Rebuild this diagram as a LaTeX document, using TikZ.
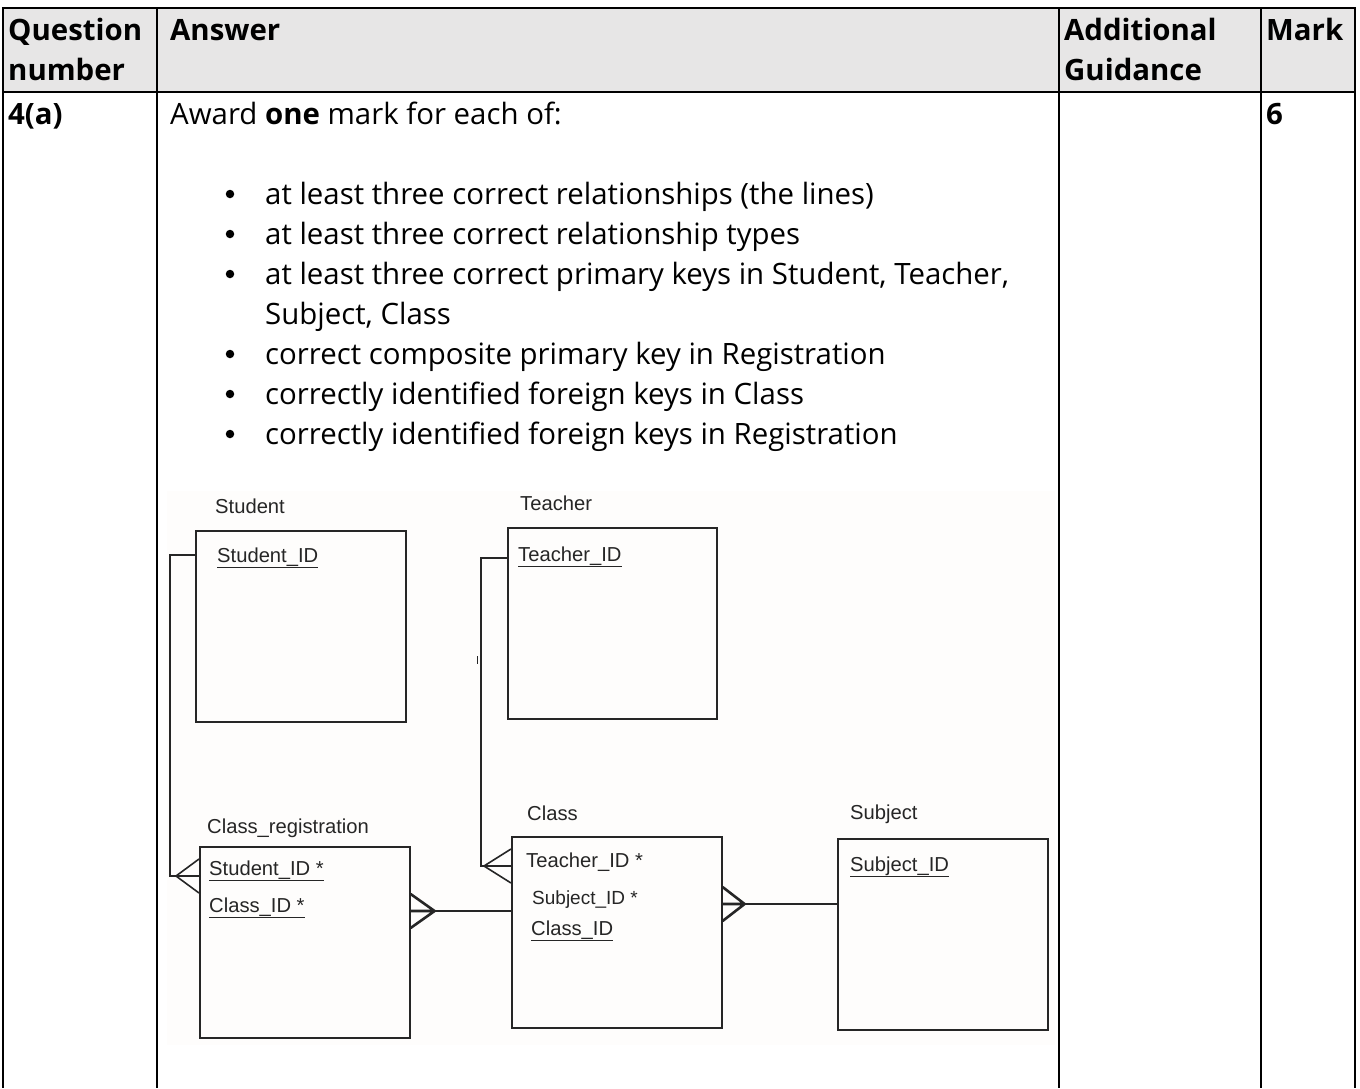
\documentclass[tikz,border=0pt]{standalone}
\usepackage{fontspec}
\setmainfont{Open Sans}
\newfontfamily\erfont{Liberation Sans}
\usetikzlibrary{calc}

\definecolor{headgray}{RGB}{231,230,230}
\definecolor{scanbg}{RGB}{254,253,252}
\definecolor{inkgray}{RGB}{38,38,38}

% crow's foot: [style]{edge point}{offset of the apex}
\newcommand{\crowfoot}[3][]{%
  \draw[link, #1] ($(#2)+(#3,0)$) -- ($(#2)+(0,-17)$)
                  ($(#2)+(#3,0)$) -- (#2)
                  ($(#2)+(#3,0)$) -- ($(#2)+(0,17)$);}

\begin{document}
\begin{tikzpicture}[x=1pt, y=-1pt,
    every node/.style={inner sep=0pt, anchor=base west},
    txt/.style={font=\fontsize{29.4}{40}\selectfont},
    hd/.style={font=\fontsize{29.4}{40}\selectfont\bfseries},
    bullet/.style={circle, fill, minimum size=8.5pt, anchor=center},
    entity/.style={draw=inkgray, line width=1.6pt, fill=scanbg, anchor=north west,
                   minimum width=210pt, minimum height=191pt},
    lbl/.style={font=\erfont\fontsize{20.2}{24}\selectfont, text=inkgray},
    link/.style={draw=inkgray, line width=1.6pt},
    rule/.style={line width=2.4pt}]

    \useasboundingbox (0,0) rectangle (1360,1088);

    %--------------------%
    % Parameters
    %--------------------%
    \def\colA{3}
    \def\colB{157}
    \def\colC{1059}
    \def\colD{1261}
    \def\colE{1355}
    \def\rowtop{8}
    \def\rowhead{92}
    \def\bulx{230}
    \def\textx{265}

    %--------------------%
    % Table
    %--------------------%
    \fill[headgray] (\colA,\rowtop) rectangle (\colE,\rowhead);
    \draw[rule] (\colA-1.2,\rowtop) -- (\colE+1.2,\rowtop);
    \draw[rule] (\colA,\rowhead) -- (\colE,\rowhead);
    \draw[rule] (\colA,\rowtop) -- (\colA,1088);
    \draw[rule] (\colB,\rowtop) -- (\colB,1088);
    \draw[rule] (\colC,\rowtop) -- (\colC,1088);
    \draw[rule] (\colD,\rowtop) -- (\colD,1088);
    \draw[rule] (\colE,\rowtop) -- (\colE,1088);

    %--------------------%
    % Header
    %--------------------%
    \node[hd] (qhead1) at (8,40) {Question};
    \node[hd] (qhead2) at (8,80) {number};
    \node[hd] (ahead) at (170,40) {Answer};
    \node[hd] (ghead1) at (1064,40) {Additional};
    \node[hd] (ghead2) at (1064,80) {Guidance};
    \node[hd] (mhead) at (1266,40) {Mark};

    %--------------------%
    % Row 4(a)
    %--------------------%
    \node[hd] (qnum) at (8,124) {4(a)};
    \node[txt] (award) at (170,124) {Award \textbf{one} mark for each of:};
    \node[hd] (mark) at (1266,124) {6};

    \foreach \y in {194,234,274,354,394,434}
        \node[bullet] at (\bulx,\y) {};
    \node[txt] (pt1) at (\textx,204) {at least three correct relationships (the lines)};
    \node[txt] (pt2) at (\textx,244) {at least three correct relationship types};
    \node[txt] (pt3) at (\textx,284) {at least three correct primary keys in Student, Teacher,};
    \node[txt] (pt3b) at (\textx,324) {Subject, Class};
    \node[txt] (pt4) at (\textx,364) {correct composite primary key in Registration};
    \node[txt] (pt5) at (\textx,404) {correctly identified foreign keys in Class};
    \node[txt] (pt6) at (\textx,444) {correctly identified foreign keys in Registration};

    %--------------------%
    % ER diagram
    %--------------------%
    \fill[scanbg] (167,491) rectangle (1055,1045);

    % Entities
    \node[entity] (student) at (195,530) {};
    \node[entity, minimum width=209pt] (teacher) at (507,527) {};
    \node[entity] (classreg) at (199,846) {};
    \node[entity] (class) at (511,836) {};
    \node[entity] (subject) at (837,838) {};

    % Entity names
    \node[lbl] (stutitle) at (215,513) {Student};
    \node[lbl] (teatitle) at (520,510) {Teacher};
    \node[lbl] (regtitle) at (207,833) {Class\_registration};
    \node[lbl] (clstitle) at (527,820) {Class};
    \node[lbl] (subtitle) at (850,819) {Subject};

    % Attributes
    \node[lbl] (stuid) at (217,562) {\underline{Student\_ID}};
    \node[lbl] (teaid) at (518,561) {\underline{Teacher\_ID}};
    \node[lbl] (regstu) at (209,875) {\underline{Student\_ID *}};
    \node[lbl] (regcls) at (209,912) {\underline{Class\_ID *}};
    \node[lbl] (clstea) at (526,867) {Teacher\_ID *};
    \node[lbl, font=\erfont\fontsize{19}{24}\selectfont] (clssub) at (532,904) {Subject\_ID *};
    \node[lbl] (clsid) at (531,935) {\underline{Class\_ID}};
    \node[lbl] (subid) at (850,871) {\underline{Subject\_ID}};

    % Connection points
    \coordinate (stu-l) at ($(student.north west)+(0,25)$);
    \coordinate (reg-l) at ($(classreg.north west)+(0,30)$);
    \coordinate (tea-l) at ($(teacher.north west)+(0,31)$);
    \coordinate (cls-l) at ($(class.north west)+(0,30)$);
    \coordinate (reg-r) at ($(classreg.north east)+(0,65)$);
    \coordinate (cls-m) at ($(class.north west)+(0,75)$);
    \coordinate (cls-r) at ($(class.north east)+(0,68)$);
    \coordinate (sub-l) at ($(subject.north west)+(0,66)$);

    % Relationships
    \draw[link] (stu-l) -- ++(-25,0) |- (reg-l);
    \crowfoot{reg-l}{-23}
    \draw[link] (tea-l) -- ++(-26,0) |- (cls-l);
    \crowfoot{cls-l}{-27}
    \draw[link, line width=2.6pt] (cls-m) -- (reg-r);
    \crowfoot[line width=2.6pt]{reg-r}{24}
    \draw[link, line width=2.6pt] (sub-l) -- (cls-r);
    \crowfoot[line width=2.6pt]{cls-r}{22}

    % stray scan mark
    \draw[link, line width=1pt] (477,656) -- (477,664);
\end{tikzpicture}
\end{document}
